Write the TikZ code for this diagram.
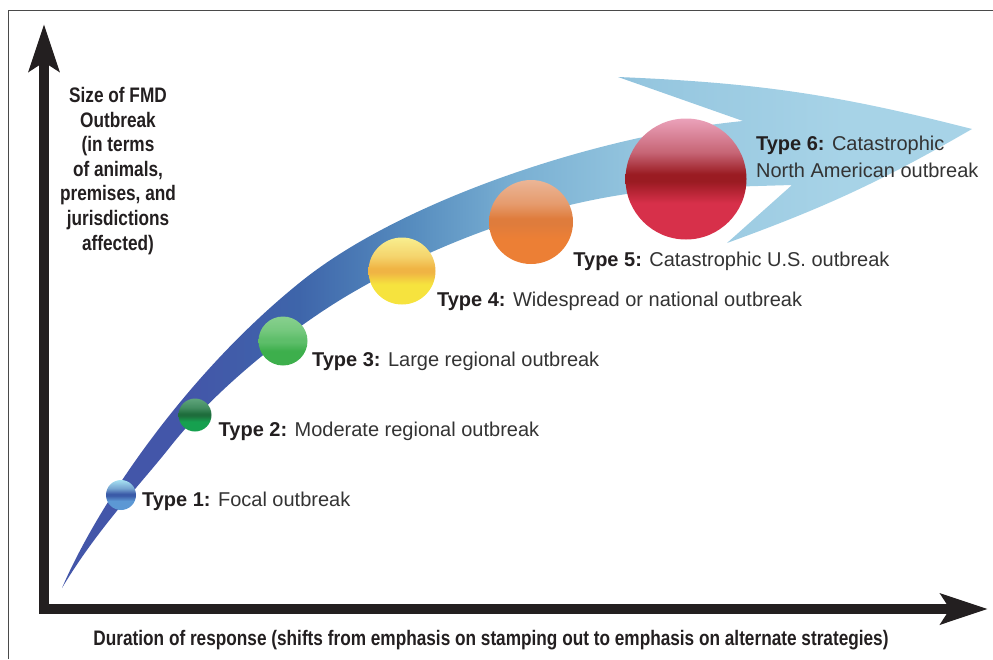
\documentclass[tikz,border=0pt]{standalone}
\usepackage{fontspec}
\setmainfont{Liberation Sans}
\newfontfamily\axisfont[FakeStretch=0.82]{Liberation Sans}
\usetikzlibrary{arrows.meta,positioning}

\definecolor{axisblack}{HTML}{231F20}
\definecolor{framegray}{HTML}{4A4A4A}
\definecolor{labeltext}{HTML}{333333}
% band colours, dark end to light end
\definecolor{bandA}{HTML}{4356A9}
\definecolor{bandB}{HTML}{3E65AA}
\definecolor{bandC}{HTML}{558BBE}
\definecolor{bandD}{HTML}{7AB0D3}
\definecolor{bandE}{HTML}{95C6DF}
\definecolor{bandF}{HTML}{A7D3E7}
\pgfdeclarehorizontalshading{bandshade}{100bp}{color(0bp)=(bandA); color(32bp)=(bandA); color(38bp)=(bandB); color(44bp)=(bandC); color(50bp)=(bandD); color(57bp)=(bandE); color(68bp)=(bandF); color(100bp)=(bandF)}

% ball colours: top, stripe, bottom
\definecolor{oneTop}{HTML}{A6E0F2}\definecolor{oneMid}{HTML}{3B5BA8}\definecolor{oneBot}{HTML}{5C98D4}
\definecolor{twoTop}{HTML}{5FA57C}\definecolor{twoMid}{HTML}{1E6D3C}\definecolor{twoBot}{HTML}{16A04F}
\definecolor{threeTop}{HTML}{88D08E}\definecolor{threeMid}{HTML}{5EBE6A}\definecolor{threeBot}{HTML}{3DAF4C}
\definecolor{fourTop}{HTML}{F8EE8E}\definecolor{fourMid}{HTML}{F0B444}\definecolor{fourBot}{HTML}{F6E33E}
\definecolor{fiveTop}{HTML}{EBB596}\definecolor{fiveMid}{HTML}{DF7C3C}\definecolor{fiveBot}{HTML}{EC7F35}
\definecolor{sixTop}{HTML}{EBA2BA}\definecolor{sixMid}{HTML}{9A1B22}\definecolor{sixBot}{HTML}{D7304A}

\newcommand{\ballshading}[4]{%
  \pgfdeclareverticalshading{#1}{100bp}{color(0bp)=(#4); color(25bp)=(#4); color(40bp)=(#4); color(49bp)=(#3); color(52bp)=(#3); color(61bp)=(#2!55!#3); color(75bp)=(#2); color(100bp)=(#2)}}
\ballshading{balltypeone}{oneTop}{oneMid}{oneBot}
\ballshading{balltypetwo}{twoTop}{twoMid}{twoBot}
\ballshading{balltypethree}{threeTop}{threeMid}{threeBot}
\ballshading{balltypefour}{fourTop}{fourMid}{fourBot}
\ballshading{balltypefive}{fiveTop}{fiveMid}{fiveBot}
\ballshading{balltypesix}{sixTop}{sixMid}{sixBot}

\tikzset{
  ball/.style={circle,inner sep=0pt,draw=none},
  typelabel/.style={inner sep=0pt,text=labeltext,font=\fontsize{20}{27.6}\selectfont},
  axislabel/.style={inner sep=0pt,text=axisblack,font=\axisfont\bfseries\fontsize{21}{24.6}\selectfont},
  axisline/.style={draw=axisblack,line width=10pt,
    {Stealth[length=47pt,width=30pt,inset=9pt]}-{Stealth[length=47pt,width=30pt,inset=9pt]}}
}
\newcommand{\typename}[1]{\textcolor{axisblack}{\bfseries Type #1:}}

\begin{document}
\begin{tikzpicture}[x=1pt,y=-1pt]
	\useasboundingbox (0,0) rectangle (993,659);
	\draw[framegray,line width=1pt] (8,659) -- (8,10) -- (993,10);

	% widening band with its arrow head
	\shade[shading=bandshade] (62,588) .. controls (100,500) and (190,370) .. (303,280)
		.. controls (405,199) and (600,135) .. (743,121)
		-- (618,77) to[bend left=6] (972,129) to[bend left=5] (727,243) -- (792,185)
		-- (690,188) .. controls (560,193) and (430,245) .. (340,300)
		.. controls (285,334) and (215,390) .. (170,447)
		.. controls (140,485) and (98,528) .. (62,588) -- cycle;

	% axes
	\coordinate (ytip) at (44,24);
	\coordinate (xtip) at (988,609);
	\draw[axisline] (ytip) |- (xtip);

	\node(ylabel)[axislabel,align=center,anchor=north] at (118,87) {Size of FMD\\Outbreak\\(in terms\\of animals,\\premises, and\\jurisdictions\\affected)};
	\node(xlabel)[axislabel,anchor=base] at (491,645) {Duration of response (shifts from emphasis on stamping out to emphasis on alternate strategies)};

	% outbreak types
	\node(t1)[ball,minimum size=30pt,shading=balltypeone] at (121,495) {};
	\node(t2)[ball,minimum size=33pt,shading=balltypetwo] at (195,415) {};
	\node(t3)[ball,minimum size=49pt,shading=balltypethree] at (283,341) {};
	\node(t4)[ball,minimum size=67pt,shading=balltypefour] at (402,271) {};
	\node(t5)[ball,minimum size=84pt,shading=balltypefive] at (531,222) {};
	\node(t6)[ball,minimum size=121pt,shading=balltypesix] at (686,179) {};

	\node(l1)[typelabel,right=5.7pt of t1,anchor=base west,yshift=-11.7pt]{\typename{1} Focal outbreak};
	\node(l2)[typelabel,right=6.8pt of t2,anchor=base west,yshift=-21.7pt]{\typename{2} Moderate regional outbreak};
	\node(l3)[typelabel,right=4.2pt of t3,anchor=base west,yshift=-25pt]{\typename{3} Large regional outbreak};
	\node(l4)[typelabel,right=1.2pt of t4,anchor=base west,yshift=-35.4pt]{\typename{4} Widespread or national outbreak};
	\node(l5)[typelabel,right=0pt of t5,anchor=base west,yshift=-44pt]{\typename{5} Catastrophic U.S. outbreak};
	\node(l6)[typelabel,right=9.2pt of t6,anchor=north west,yshift=43.4pt,align=left]{\typename{6} Catastrophic\\North American outbreak};
\end{tikzpicture}
\end{document}
